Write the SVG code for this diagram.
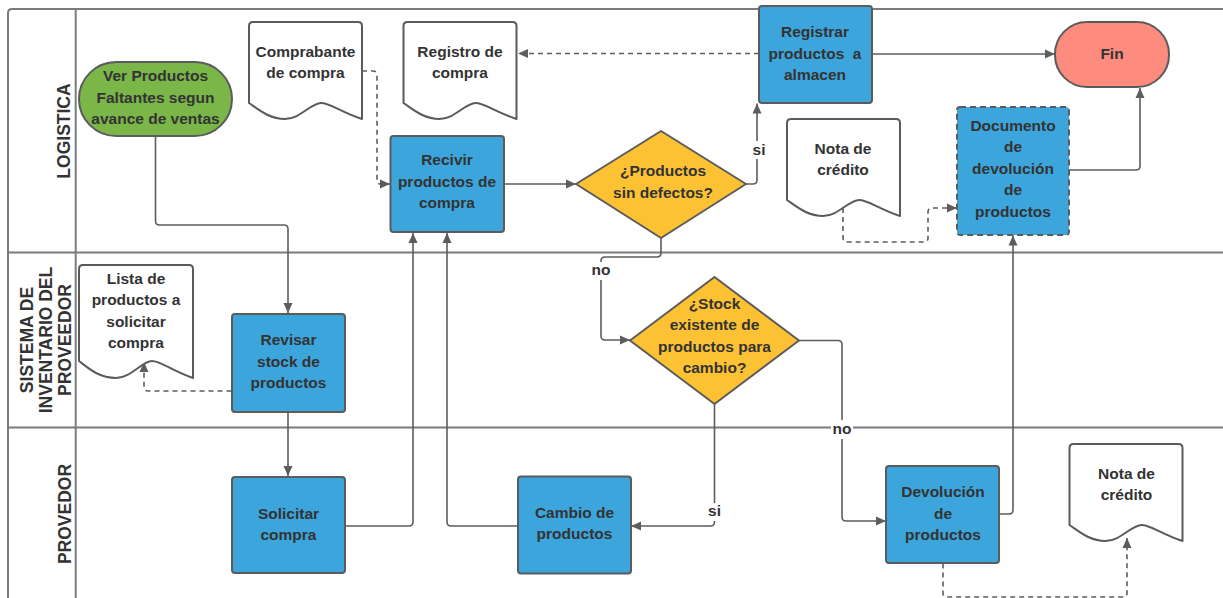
<svg xmlns="http://www.w3.org/2000/svg" width="1223" height="598" viewBox="0 0 1223 598">
  <defs>
    <style>
      .lane { fill: none; stroke: #7b7b7b; stroke-width: 2; }
      .lanetxt { font-family: "Liberation Sans", Arial, sans-serif; font-weight: bold; font-size: 17.5px; fill: #333; text-anchor: middle; }
      .t { font-family: "Liberation Sans", Arial, sans-serif; font-weight: bold; font-size: 15.5px; fill: #333; text-anchor: middle; }
      .proc { fill: #3ca5dc; stroke: #5b5b5b; stroke-width: 2; }
      .dec { fill: #fcc234; stroke: #5b5b5b; stroke-width: 2; stroke-linejoin: round; }
      .doc { fill: #fff; stroke: #5b5b5b; stroke-width: 2; stroke-linejoin: round; }
      .c { fill: none; stroke: #5d5d5d; stroke-width: 1.6; marker-end: url(#arr); }
      .d { stroke-dasharray: 5 4; }
      .lblbg { fill: #fff; }
    </style>
    <marker id="arr" markerUnits="userSpaceOnUse" markerWidth="12" markerHeight="11" refX="10" refY="5" orient="auto">
      <path d="M0,0.5 L10,5 L0,9.5 Z" fill="#5d5d5d"/>
    </marker>
    <!-- document symbol, 113 wide, wavy bottom -->
    <path id="docShape" d="M0,4 Q0,0 4,0 L109,0 Q113,0 113,4 L113,97 C90,89 81,81 72,81 C62,81 51,97 36,97 C20,97 9,87 0,81 Z"/>
    <path id="docTall" d="M0,4 Q0,0 4,0 L110,0 Q114,0 114,4 L114,113 C91,105 82,96 73,96 C63,96 52,113 37,113 C20,113 9,103 0,96 Z"/>
  </defs>

  <rect width="1223" height="598" fill="#fff"/>

  <!-- swimlane frame -->
  <g id="lanes">
    <path class="lane" d="M1240,9 H12 Q8,9 8,13 V610"/>
    <line class="lane" x1="75.7" y1="9" x2="75.7" y2="610"/>
    <line class="lane" x1="8" y1="252.5" x2="1240" y2="252.5"/>
    <line class="lane" x1="8" y1="427.5" x2="1240" y2="427.5"/>
    <text class="lanetxt" transform="translate(70,131) rotate(-90)">LOGISTICA</text>
    <text class="lanetxt" transform="translate(33.3,340) rotate(-90)">SISTEMA DE</text>
    <text class="lanetxt" transform="translate(51.7,340) rotate(-90)">INVENTARIO DEL</text>
    <text class="lanetxt" transform="translate(70.5,340) rotate(-90)">PROVEEDOR</text>
    <text class="lanetxt" transform="translate(70.5,514) rotate(-90)">PROVEDOR</text>
  </g>

  <!-- connectors -->
  <g id="connectors">
    <path class="c" d="M155.5,136 V221 Q155.5,225 159.5,225 H284 Q288,225 288,229 V313"/>
    <path class="c" d="M288,412.5 V476"/>
    <path class="c d" d="M231.5,391 H148 Q144,391 144,387 V362"/>
    <path class="c d" d="M362,71 H373 Q377,71 377,75 V180 Q377,184 381,184 H390"/>
    <path class="c" d="M345,526 H409 Q413,526 413,522 V233"/>
    <path class="c" d="M518,526 H451 Q447,526 447,522 V233"/>
    <path class="c" d="M504,184 H576"/>
    <path class="c" d="M746,184 H753 Q757,184 757,180 V103.5"/>
    <path class="c" d="M661,238 V253 Q661,257 657,257 H605 Q601,257 601,261 V336 Q601,340 605,340 H630"/>
    <path class="c d" d="M759,53.5 H518"/>
    <path class="c" d="M872,54 H1055"/>
    <path class="c" d="M1069,170 H1136 Q1140,170 1140,166 V88"/>
    <path class="c d" d="M843,208 V238 Q843,242 847,242 H924 Q928,242 928,238 V212 Q928,208 932,208 H957"/>
    <path class="c" d="M999,514 H1009 Q1013,514 1013,510 V235.5"/>
    <path class="c" d="M799,340.5 H838 Q842,340.5 842,344.5 V517 Q842,521 846,521 H886"/>
    <path class="c" d="M714.5,404 V522 Q714.5,526 710.5,526 H631"/>
    <path class="c d" d="M943,563.5 V593 Q943,597 947,597 H1123 Q1127,597 1127,593 V538"/>
    <!-- branch labels -->
    <rect class="lblbg" x="751" y="141" width="16" height="18"/>
    <text class="t" x="759" y="155">si</text>
    <rect class="lblbg" x="591" y="262" width="20" height="18"/>
    <text class="t" x="601" y="275">no</text>
    <rect class="lblbg" x="706" y="503" width="17" height="18"/>
    <text class="t" x="714.5" y="516">si</text>
    <rect class="lblbg" x="831" y="420" width="22" height="19"/>
    <text class="t" x="842" y="434">no</text>
  </g>

  <!-- LOGISTICA lane -->
  <g id="ver-productos">
    <rect x="79" y="62" width="153" height="74" rx="37" fill="#7ab648" stroke="#5b5b5b" stroke-width="2"/>
    <text class="t" x="155.5" y="81">Ver Productos</text>
    <text class="t" x="155.5" y="102.5">Faltantes segun</text>
    <text class="t" x="155.5" y="124">avance de ventas</text>
  </g>
  <g id="comprobante">
    <use href="#docShape" class="doc" transform="translate(249,22)"/>
    <text class="t" x="305.5" y="57">Comprabante</text>
    <text class="t" x="305.5" y="78">de compra</text>
  </g>
  <g id="registro">
    <use href="#docShape" class="doc" transform="translate(403.5,22)"/>
    <text class="t" x="460" y="57">Registro de</text>
    <text class="t" x="460" y="78">compra</text>
  </g>
  <g id="recivir">
    <rect class="proc" x="390.5" y="136" width="113.5" height="96" rx="3"/>
    <text class="t" x="447" y="165">Recivir</text>
    <text class="t" x="447" y="186.5">productos de</text>
    <text class="t" x="447" y="208">compra</text>
  </g>
  <g id="sin-defectos">
    <polygon class="dec" points="576,184 661,131 746,184 661,238"/>
    <text class="t" x="663" y="176">¿Productos</text>
    <text class="t" x="663" y="197.5">sin defectos?</text>
  </g>
  <g id="registrar">
    <rect class="proc" x="759" y="6" width="113" height="97" rx="3"/>
    <text class="t" x="815" y="37">Registrar</text>
    <text class="t" x="815" y="58.5">productos&#160; a</text>
    <text class="t" x="815" y="80">almacen</text>
  </g>
  <g id="fin">
    <rect x="1055" y="22" width="114" height="65" rx="32" fill="#fe8c7e" stroke="#5b5b5b" stroke-width="2"/>
    <text class="t" x="1112" y="58.5">Fin</text>
  </g>
  <g id="nota-credito-1">
    <use href="#docShape" class="doc" transform="translate(787,119)"/>
    <text class="t" x="843" y="153.5">Nota de</text>
    <text class="t" x="843" y="175">crédito</text>
  </g>
  <g id="documento-devolucion">
    <rect class="proc" x="957" y="107" width="112" height="128" rx="3" stroke-dasharray="6 4"/>
    <text class="t" x="1013" y="130.5">Documento</text>
    <text class="t" x="1013" y="152">de</text>
    <text class="t" x="1013" y="173.5">devolución</text>
    <text class="t" x="1013" y="195">de</text>
    <text class="t" x="1013" y="216.5">productos</text>
  </g>

  <!-- SISTEMA DE INVENTARIO lane -->
  <g id="lista">
    <use href="#docTall" class="doc" transform="translate(79,265)"/>
    <text class="t" x="136" y="283.5">Lista de</text>
    <text class="t" x="136" y="305">productos a</text>
    <text class="t" x="136" y="326.5">solicitar</text>
    <text class="t" x="136" y="348">compra</text>
  </g>
  <g id="revisar">
    <rect class="proc" x="232" y="314" width="113" height="98" rx="3"/>
    <text class="t" x="288.5" y="345">Revisar</text>
    <text class="t" x="288.5" y="366.5">stock de</text>
    <text class="t" x="288.5" y="388">productos</text>
  </g>
  <g id="stock-cambio">
    <polygon class="dec" points="630,340.5 714.5,277 799,340.5 714.5,404"/>
    <text class="t" x="714.5" y="308.5">¿Stock</text>
    <text class="t" x="714.5" y="330">existente de</text>
    <text class="t" x="714.5" y="351.5">productos para</text>
    <text class="t" x="714.5" y="373">cambio?</text>
  </g>

  <!-- PROVEDOR lane -->
  <g id="solicitar">
    <rect class="proc" x="232" y="477" width="113" height="96" rx="3"/>
    <text class="t" x="288.5" y="518.5">Solicitar</text>
    <text class="t" x="288.5" y="540">compra</text>
  </g>
  <g id="cambio">
    <rect class="proc" x="518" y="476.5" width="113" height="97" rx="3"/>
    <text class="t" x="574.5" y="517.5">Cambio de</text>
    <text class="t" x="574.5" y="539">productos</text>
  </g>
  <g id="devolucion">
    <rect class="proc" x="886" y="466" width="113" height="97" rx="3"/>
    <text class="t" x="943" y="497">Devolución</text>
    <text class="t" x="943" y="518.5">de</text>
    <text class="t" x="943" y="540">productos</text>
  </g>
  <g id="nota-credito-2">
    <use href="#docShape" class="doc" transform="translate(1069.5,444)"/>
    <text class="t" x="1126.5" y="478.5">Nota de</text>
    <text class="t" x="1126.5" y="500">crédito</text>
  </g>
</svg>
